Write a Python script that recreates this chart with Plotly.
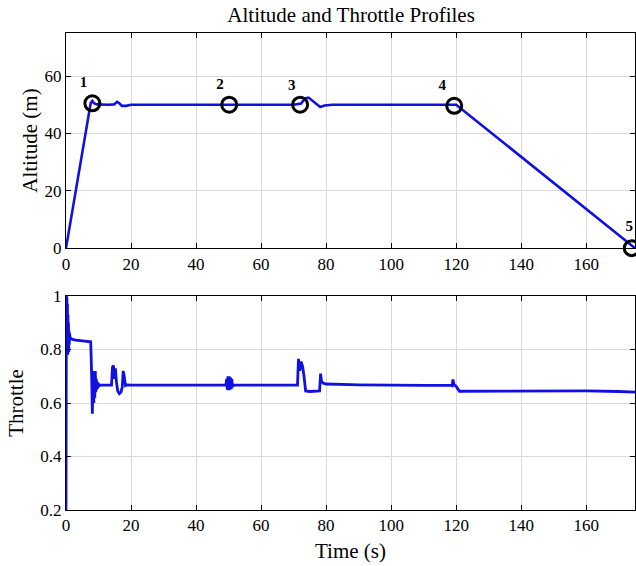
import plotly.graph_objects as go

# Altitude profile (m) versus time (s)
alt_time = [0, 7.6, 8.1, 8.6, 9.5, 11, 13, 14.8, 15.7, 16.4, 17.2, 18.5, 20, 30,
            50, 70, 72.3, 73.5, 74.6, 76.0, 77.4, 78.2, 79.5, 82, 100, 120, 175]
altitude = [0, 50.6, 51.3, 50.5, 50.1, 50.0, 50.0, 50.1, 51.0, 50.5, 49.6, 49.6, 50.0, 50.0,
            50.0, 50.0, 50.4, 52.2, 52.5, 51.3, 49.8, 49.2, 49.7, 50.0, 50.0, 50.0, 0]

# Waypoints marked along the altitude profile
wp_time = [8.1, 50.2, 72.0, 119.4, 174.0]
wp_alt = [50.5, 50.0, 50.0, 49.6, 0.0]
wp_label = ["1", "2", "3", "4", "5"]
wp_label_time = [5.4, 47.4, 69.4, 115.7, 173.2]
wp_label_alt = [57.5, 56.8, 56.5, 56.5, 7.3]

# Throttle command versus time (s)
thr_time = [0, 0.12, 0.2, 0.28, 0.36, 0.44, 0.52, 0.6, 0.68, 0.76, 0.84, 0.92, 1.0, 1.1,
            1.25, 1.5, 2.0, 3.0, 5.0, 7.0, 7.6, 7.9, 8.1, 8.25, 8.4, 8.55, 8.7, 8.85,
            9.0, 9.15, 9.3, 9.45, 9.6, 9.75, 9.9, 10.1, 10.5, 12, 14.0, 14.3, 14.6,
            14.9, 15.2, 15.5, 15.9, 16.4, 16.9, 17.3, 17.6, 17.9, 18.3, 18.8, 20,
            30, 40, 49.2, 49.4, 49.6, 49.8, 50.0, 50.2, 50.4, 50.6, 50.8, 51.0,
            51.2, 51.5, 55, 65, 71.2, 71.5, 71.9, 72.3, 72.8, 73.2, 73.7, 75, 77.6,
            78.0, 78.3, 78.6, 79.2, 80, 90, 100, 110, 118.6, 118.8, 119.0, 119.3,
            119.7, 119.9, 121, 140, 160, 170, 175]
throttle = [0.2, 1.0, 0.78, 0.99, 0.8, 0.97, 0.78, 0.93, 0.8, 0.9, 0.79, 0.87, 0.82, 0.86,
            0.84, 0.842, 0.838, 0.835, 0.833, 0.831, 0.829, 0.7, 0.56, 0.66, 0.72, 0.6,
            0.71, 0.62, 0.72, 0.64, 0.69, 0.65, 0.68, 0.655, 0.675, 0.662, 0.668, 0.667,
            0.667, 0.735, 0.74, 0.69, 0.73, 0.68, 0.645, 0.635, 0.64, 0.66, 0.72, 0.7,
            0.665, 0.668, 0.667, 0.667, 0.667, 0.667, 0.69, 0.65, 0.70, 0.648, 0.70,
            0.65, 0.695, 0.652, 0.69, 0.66, 0.667, 0.667, 0.667, 0.667, 0.765, 0.72,
            0.755, 0.735, 0.7, 0.645, 0.643, 0.644, 0.645, 0.71, 0.68, 0.674, 0.671,
            0.668, 0.666, 0.666, 0.666, 0.665, 0.688, 0.67, 0.665,
            0.664, 0.644, 0.645, 0.645, 0.643, 0.641, 0.634]

x_ticks = [0, 20, 40, 60, 80, 100, 120, 140, 160]
alt_ticks = [0, 20, 40, 60]
thr_ticks = [0.2, 0.4, 0.6, 0.8, 1.0]
thr_tick_text = ["0.2", "0.4", "0.6", "0.8", "1"]

SERIF = "Liberation Serif"
LINE_BLUE = "#1010e0"

fig = go.Figure()

fig.add_trace(go.Scatter(x=alt_time, y=altitude, mode="lines",
                         line=dict(color=LINE_BLUE, width=2.6),
                         xaxis="x", yaxis="y", showlegend=False, cliponaxis=True))
fig.add_trace(go.Scatter(x=wp_time, y=wp_alt, mode="markers",
                         marker=dict(size=15, color="rgba(0,0,0,0)",
                                     line=dict(color="black", width=3)),
                         xaxis="x", yaxis="y", showlegend=False, cliponaxis=False))
fig.add_trace(go.Scatter(x=wp_label_time, y=wp_label_alt, mode="text", text=wp_label,
                         textfont=dict(family=SERIF, size=15, color="black",
                                       weight="bold"),
                         xaxis="x", yaxis="y", showlegend=False, cliponaxis=False))
fig.add_trace(go.Scatter(x=thr_time, y=throttle, mode="lines",
                         line=dict(color=LINE_BLUE, width=2.8),
                         xaxis="x2", yaxis="y2", showlegend=False))

axis_common = dict(showline=True, linecolor="black", linewidth=1, mirror="ticks",
                   ticks="inside", ticklen=5, tickcolor="black",
                   showgrid=True, gridcolor="#d9d9d9", gridwidth=1, zeroline=False,
                   tickfont=dict(family=SERIF, size=17, color="black"))

fig.update_layout(
    width=636, height=566,
    margin=dict(l=66, r=1, t=33, b=56),
    paper_bgcolor="white", plot_bgcolor="white",
    title=dict(text="Altitude and Throttle Profiles", x=0.552, xanchor="center",
               y=0.975, yanchor="middle",
               font=dict(family=SERIF, size=21, color="black")),
    xaxis=dict(domain=[0, 1], range=[0, 175], tickvals=x_ticks, anchor="y",
               **axis_common),
    yaxis=dict(domain=[0.549, 1], range=[0, 75], tickvals=alt_ticks, anchor="x",
               title=dict(text="Altitude (m)", standoff=1,
                          font=dict(family=SERIF, size=21, color="black")),
               **axis_common),
    xaxis2=dict(domain=[0, 1], range=[0, 175], tickvals=x_ticks, anchor="y2",
                title=dict(text="Time (s)", standoff=8,
                           font=dict(family=SERIF, size=21, color="black")),
                **axis_common),
    yaxis2=dict(domain=[0, 0.4486], range=[0.2, 1.0], tickvals=thr_ticks,
                ticktext=thr_tick_text, anchor="x2",
                title=dict(text="Throttle", standoff=10,
                           font=dict(family=SERIF, size=21, color="black")),
                **axis_common),
)

fig.write_html("out.html")
